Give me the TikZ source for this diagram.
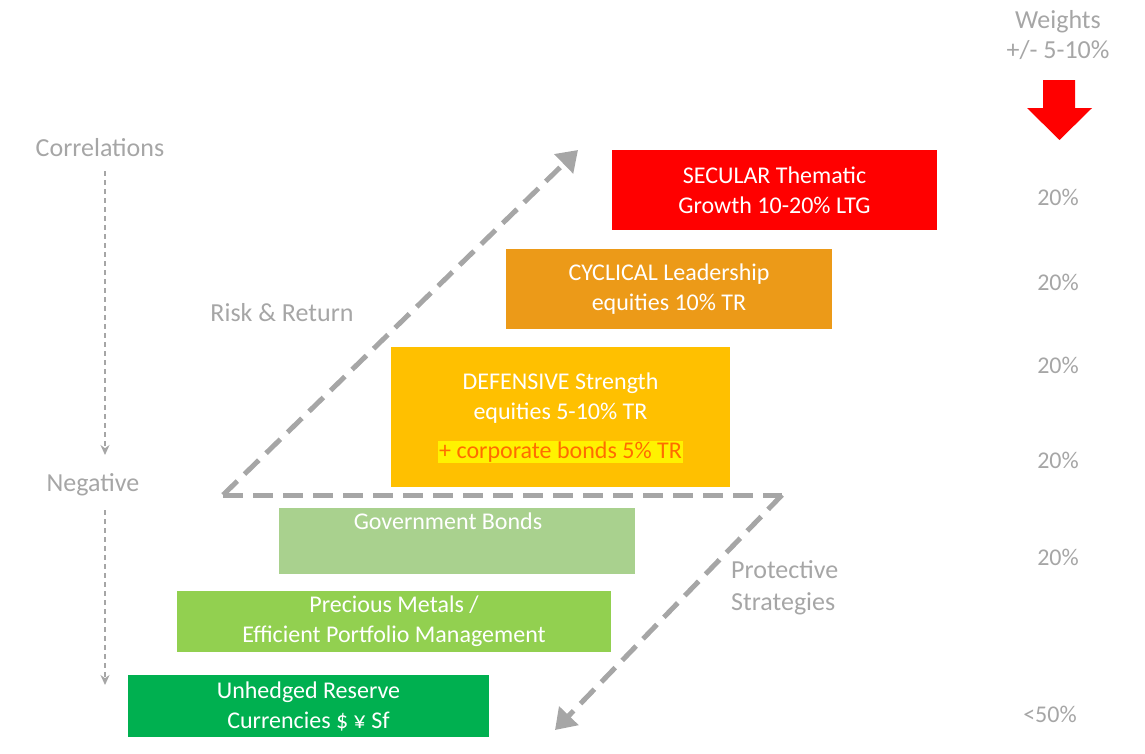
\documentclass[tikz,border=0pt]{standalone}
\usepackage{fontspec}
\setmainfont{Carlito}
\usetikzlibrary{arrows.meta}
\definecolor{gt}{HTML}{A6A6A6}
\definecolor{gd}{HTML}{A6A6A6}
\definecolor{cred}{HTML}{FF0000}
\definecolor{corg}{HTML}{EC9A18}
\definecolor{cyel}{HTML}{FFC000}
\definecolor{cgov}{HTML}{A9D18E}
\definecolor{cpm}{HTML}{92D050}
\definecolor{cun}{HTML}{00B050}
\begin{document}
\begin{tikzpicture}[x=1pt,y=-1pt,
  lbl/.style={text=gt,font=\fontsize{26}{30}\selectfont,inner sep=0pt},
  pct/.style={text=gt,font=\fontsize{24}{28}\selectfont,inner sep=0pt},
  band/.style={minimum height=#1,inner sep=0pt,text=white,font=\fontsize{24}{30}\selectfont,align=center},
  big/.style={draw=gd,line width=5pt,dash pattern=on 20pt off 10pt,-{Triangle[length=20pt,width=26pt]}},
  thin/.style={draw=gd,line width=1.5pt,dash pattern=on 5pt off 4pt,-{Stealth[length=10pt,width=9pt]}}]
\useasboundingbox (0,0) rectangle (1145,753);
% boxes
\node[band=80pt,fill=cred,minimum width=325pt] (sec) at (774.5,190) {SECULAR Thematic\\Growth 10-20\% LTG};
\node[band=80pt,fill=corg,minimum width=326pt] (cyc) at (669,289) {CYCLICAL Leadership\\equities 10\% TR};
\node[fill=cyel,minimum width=339pt,minimum height=140pt,inner sep=0pt] (def) at (560.5,417) {};
\node[text=white,font=\fontsize{24}{30}\selectfont,align=center,inner sep=0pt] (deft) at (560.5,398) {DEFENSIVE Strength\\equities 5-10\% TR};
\node[fill=yellow,text=orange!85!red,font=\fontsize{24}{30}\selectfont,inner sep=1pt] (defh) at (560.5,452) {+ corporate bonds 5\% TR};
\node[fill=cgov,minimum width=356pt,minimum height=66pt,inner sep=0pt] (gov) at (457,541) {};
\node[text=white,font=\fontsize{24}{30}\selectfont,inner sep=0pt] (govt) at (448,521) {Government Bonds};
\node[band=61pt,fill=cpm,minimum width=434pt] (pm) at (394,621.5) {Precious Metals /\\Efficient Portfolio Management};
\node[band=62pt,fill=cun,minimum width=361pt] (un) at (308.5,706) {Unhedged Reserve\\Currencies \$ ¥ Sf};
% labels
\node[lbl] (w1) at (1058,22) {Weights};
\node[lbl] (w2) at (1058,50) {+/- 5-10\%};
\node[lbl] (cor) at (100,148) {Correlations};
\node[lbl] (neg) at (93,485) {Negative};
\node[lbl] (rr) at (282,313) {Risk \& Return};
\node[lbl,align=left,anchor=west] (ps) at (731,588) {Protective\\[2pt]Strategies};
\node[pct] (p1) at (1058,197) {20\%};
\node[pct] (p2) at (1058,282) {20\%};
\node[pct] (p3) at (1058,365) {20\%};
\node[pct] (p4) at (1058,460) {20\%};
\node[pct] (p5) at (1058,557) {20\%};
\node[pct] (p6) at (1050,714) {<50\%};
% red arrow
\fill[cred] (1043,80) -- (1075,80) -- (1075,108) -- (1092,108) -- (1059.5,140) -- (1027,108) -- (1043,108) -- cycle;
% thin dashed arrows
\coordinate (t1) at (105,455); \coordinate (t2) at (105,510); \coordinate (t3) at (105,685);
\draw[thin] (cor.south -| t1) ++(0,14) -- (t1);
\draw[thin] (t2) -- (t3);
% big dashed
\coordinate (a0) at (223,495); \coordinate (a1) at (578,150);
\coordinate (b1) at (782,495); \coordinate (b2) at (555,730);
\draw[big] (a0) -- (a1);
\draw[draw=gd,line width=5pt,dash pattern=on 20pt off 10pt] (a0) -- (b1);
\draw[big] (b1) -- (b2);
\end{tikzpicture}
\end{document}
